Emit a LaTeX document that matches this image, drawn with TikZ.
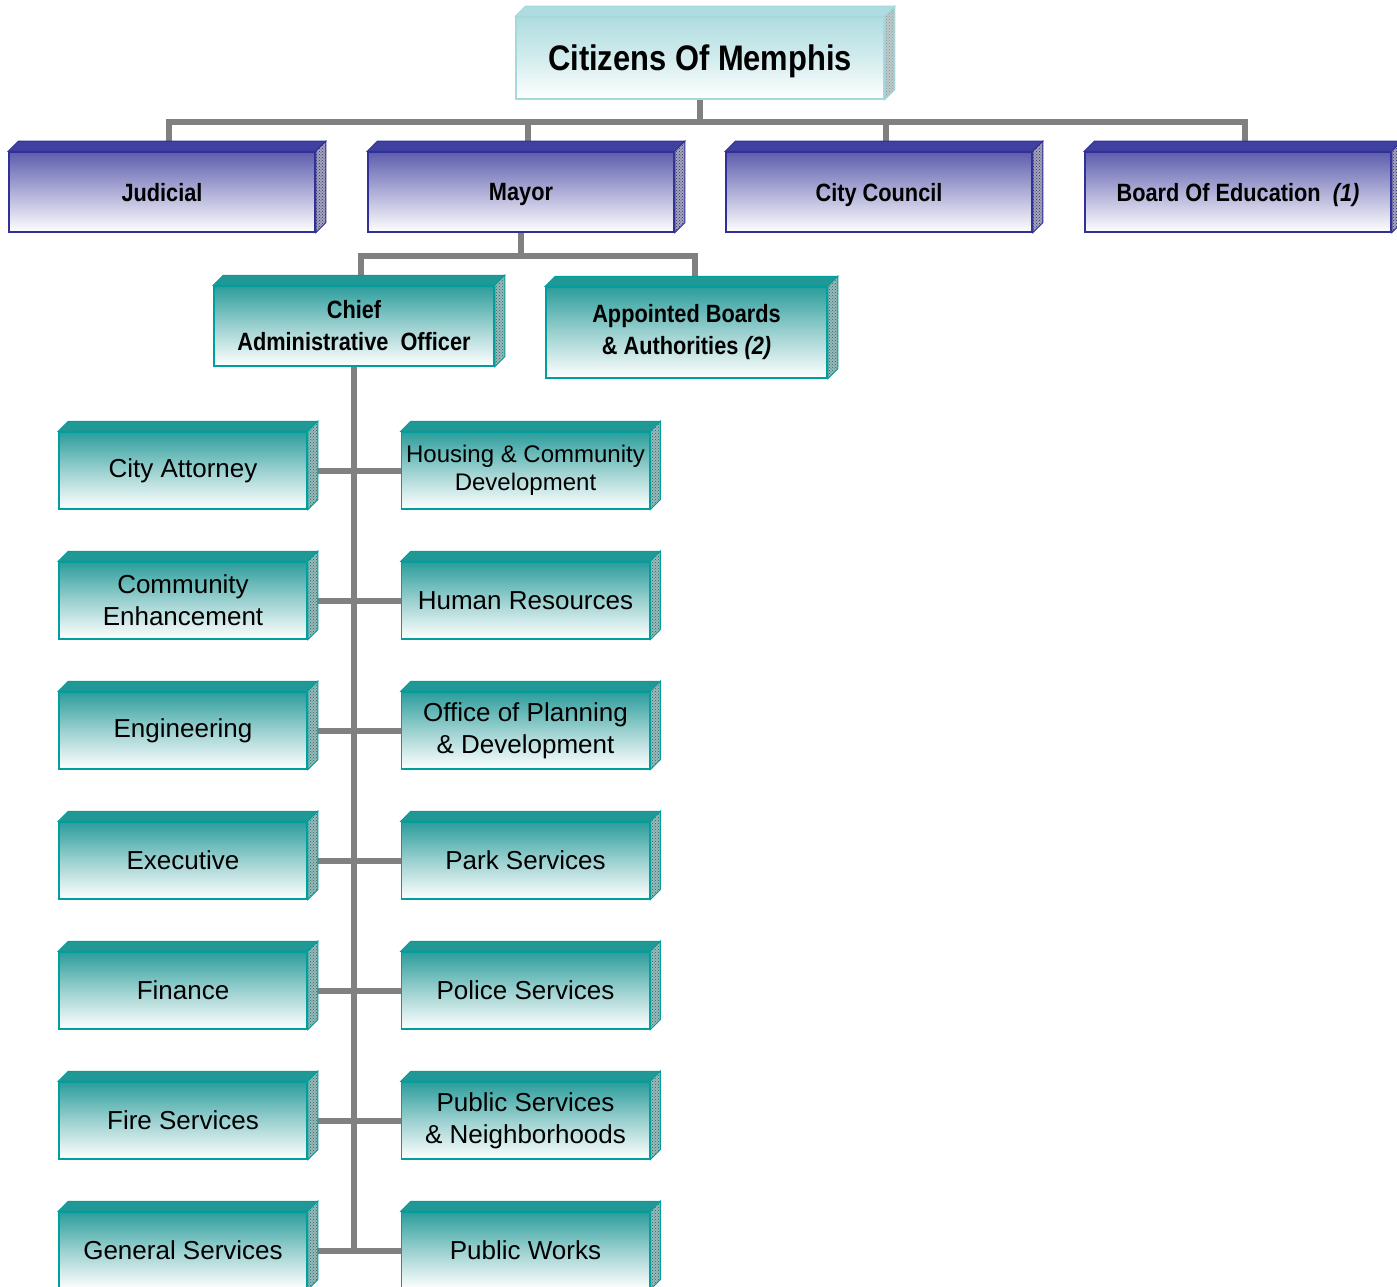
\documentclass[tikz,border=0pt]{standalone}
\usepackage{fontspec}
\setmainfont{Liberation Sans}
\newfontfamily\narrowfont[FakeStretch=0.87]{Liberation Sans}
\usetikzlibrary{patterns}

\definecolor{navytop}{RGB}{64,64,160}
\definecolor{navyline}{RGB}{48,48,150}
\definecolor{tealtop}{RGB}{32,152,150}
\definecolor{tealline}{RGB}{0,158,156}
\definecolor{cyantop}{RGB}{175,220,224}
\definecolor{cyanline}{RGB}{165,218,220}
\definecolor{wire}{RGB}{128,128,128}

\tikzset{
  orgbox/.style={line width=1.5pt, inner sep=0pt, align=center},
  citybox/.style={orgbox, draw=cyanline, top color=cyantop, bottom color=white,
    middle color=cyantop!55, minimum width=368pt, minimum height=82pt, text depth=0pt,
    font=\narrowfont\bfseries\fontsize{35.5}{44}\selectfont},
  navybox/.style={orgbox, draw=navyline, top color=navytop!85, bottom color=white,
    middle color=navytop!42, minimum width=306pt, minimum height=80pt, text depth=0pt,
    font=\narrowfont\bfseries\fontsize{25}{32}\selectfont},
  tealbox/.style={orgbox, draw=tealline, top color=tealtop!95, bottom color=white,
    middle color=tealtop!45, minimum height=80pt,
    font=\narrowfont\bfseries\fontsize{25}{32}\selectfont},
  deptbox/.style={orgbox, draw=tealline, top color=tealtop!95, bottom color=white,
    middle color=tealtop!45, minimum width=248pt, minimum height=77pt,
    font=\fontsize{26}{32}\selectfont},
  wire/.style={draw=wire, line width=6pt}
}

% top and right faces of a box
\newcommand{\slab}[2]{%
  \filldraw[fill=#2top, draw=#2line, line width=1pt] (#1.north west) -- ++(10,10)
    -- ([shift={(10,10)}]#1.north east) -- (#1.north east) -- cycle;
  \fill[#2top!40!gray!60] (#1.north east) -- ++(10,10) -- ([shift={(10,10)}]#1.south east) -- (#1.south east) -- cycle;
  \draw[pattern=crosshatch dots, pattern color=#2top!70!black, draw=#2line, line width=1pt] (#1.north east) -- ++(10,10)
    -- ([shift={(10,10)}]#1.south east) -- (#1.south east) -- cycle;
}

\begin{document}
\begin{tikzpicture}[x=1pt,y=1pt]
        \useasboundingbox (0,0) rectangle (1397,-1287);
        \node[citybox] (citizens) at (700,-58) {Citizens Of Memphis};
        \node[navybox] (jud) at (162,-192) {Judicial};
        \node[navybox] (mayor) at (521,-192) {Mayor};
        \node[navybox] (council) at (879,-192) {City Council};
        \node[navybox] (board) at (1238,-192) {Board Of Education~~\textit{(1)}};
        \node[tealbox, minimum width=280pt] (cao) at (354,-326) {Chief\\Administrative~~Officer};
        \node[tealbox, minimum width=281pt, minimum height=91pt] (boards) at (686.5,-332.5)
          {Appointed Boards\\\& Authorities \textit{(2)}};
        \node[deptbox] (atty) at (183,-470.5) {City Attorney};
        \node[deptbox] (comm) at (183,-600.5) {Community\\Enhancement};
        \node[deptbox] (eng) at (183,-730.5) {Engineering};
        \node[deptbox] (exec) at (183,-860.5) {Executive};
        \node[deptbox] (fin) at (183,-990.5) {Finance};
        \node[deptbox] (fire) at (183,-1120.5) {Fire Services};
        \node[deptbox] (gen) at (183,-1250.5) {General Services};
        \node[deptbox, font=\fontsize{24}{28}\selectfont] (house) at (525.5,-470.5) {Housing \& Community\\Development};
        \node[deptbox] (hr) at (525.5,-600.5) {Human Resources};
        \node[deptbox] (plan) at (525.5,-730.5) {Office of Planning\\\& Development};
        \node[deptbox] (park) at (525.5,-860.5) {Park Services};
        \node[deptbox] (police) at (525.5,-990.5) {Police Services};
        \node[deptbox] (pubsvc) at (525.5,-1120.5) {Public Services\\\& Neighborhoods};
        \node[deptbox] (works) at (525.5,-1250.5) {Public Works};
        \draw[wire] (citizens.south) -- ++(0,-22) coordinate (bus);
        \draw[wire] ([xshift=7pt]jud.north) |- ([xshift=7pt]board.north |- bus) -- ([xshift=7pt]board.north);
        \draw[wire] ([xshift=7pt]mayor.north) -- ([xshift=7pt]mayor.north |- bus);
        \draw[wire] ([xshift=7pt]council.north) -- ([xshift=7pt]council.north |- bus);
        \draw[wire] (mayor.south) -- ++(0,-23) coordinate (mbus);
        \draw[wire] ([xshift=7pt]cao.north) |- (mbus) -| ([xshift=8pt]boards.north);
        \draw[wire] (cao.south) -- (cao.south |- gen.east);
        \foreach \a/\b in {atty/house,comm/hr,eng/plan,exec/park,fin/police,fire/pubsvc,gen/works}
          \draw[wire] ([xshift=10pt]\a.east) -- (\b.west);
        \slab{citizens}{cyan}
        \foreach \n in {jud,mayor,council,board} {\slab{\n}{navy}}
        \foreach \n in {cao,boards,atty,comm,eng,exec,fin,fire,gen,house,hr,plan,park,police,pubsvc,works} {\slab{\n}{teal}}
\end{tikzpicture}
\end{document}
